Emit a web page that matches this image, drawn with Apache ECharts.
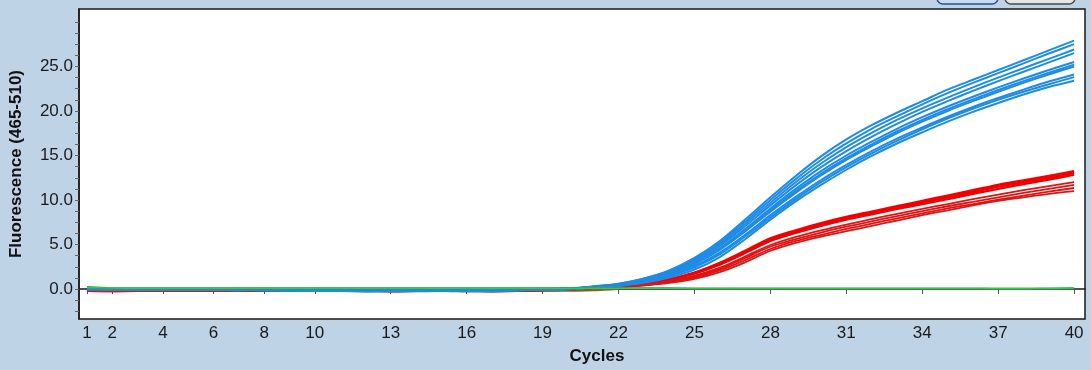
<!DOCTYPE html>
<html>
<head>
<meta charset="utf-8">
<script src="https://cdn.jsdelivr.net/npm/echarts@6/dist/echarts.min.js"></script>
<style>
html,body{margin:0;padding:0;background:#bfd3e6;}
#c{width:1091px;height:370px;}
</style>
</head>
<body>
<div id="c"></div>
<script>
const cycles = [1,2,3,4,5,6,7,8,9,10,11,12,13,14,15,16,17,18,19,20,21,22,23,24,25,26,27,28,29,30,31,32,33,34,35,36,37,38,39,40];
const xTickLabels = [1,2,4,6,8,10,13,16,19,22,25,28,31,34,37,40];
const yTickLabels = [0,5,10,15,20,25];
const yMinorTicks = [-2.5,-1.25,0,1.25,2.5,3.75,5,6.25,7.5,8.75,10,11.25,12.5,13.75,15,16.25,17.5,18.75,20,21.25,22.5,23.75,25,26.25,27.5,28.75,30];

// Blue samples
const blue1 = [0.05,0.02,0.0,-0.02,-0.05,-0.08,-0.1,-0.08,-0.12,-0.15,-0.2,-0.18,-0.15,-0.18,-0.2,-0.15,-0.12,-0.1,-0.05,0.05,0.3,0.6,1.2,2.1,3.5,5.4,7.8,10.3,12.7,14.9,16.8,18.4,19.8,21.1,22.4,23.5,24.6,25.7,26.8,27.9];
const blue2 = [0.02,0.0,-0.03,-0.05,-0.06,-0.1,-0.12,-0.1,-0.1,-0.14,-0.18,-0.2,-0.17,-0.15,-0.18,-0.16,-0.14,-0.08,-0.02,0.04,0.28,0.57,1.15,2.0,3.35,5.2,7.55,10.0,12.35,14.5,16.35,18.0,19.4,20.75,22.0,23.15,24.25,25.35,26.45,27.5];
const blue3 = [0.0,-0.02,-0.04,-0.06,-0.08,-0.05,-0.08,-0.12,-0.14,-0.12,-0.16,-0.22,-0.2,-0.16,-0.15,-0.18,-0.15,-0.1,-0.04,0.03,0.26,0.55,1.1,1.95,3.25,5.05,7.3,9.7,12.0,14.1,15.95,17.55,19.0,20.3,21.5,22.65,23.75,24.8,25.85,26.9];
const blue4 = [0.03,0.01,-0.02,-0.04,-0.07,-0.09,-0.06,-0.1,-0.11,-0.16,-0.21,-0.17,-0.19,-0.2,-0.16,-0.13,-0.16,-0.12,-0.06,0.02,0.25,0.52,1.05,1.85,3.1,4.85,7.05,9.4,11.65,13.7,15.5,17.1,18.55,19.9,21.1,22.25,23.35,24.4,25.45,26.5];
const blue5 = [-0.02,-0.04,-0.05,-0.03,-0.06,-0.1,-0.11,-0.09,-0.13,-0.17,-0.19,-0.21,-0.18,-0.17,-0.19,-0.17,-0.13,-0.09,-0.05,0.01,0.22,0.48,0.98,1.75,2.95,4.6,6.75,9.05,11.25,13.25,15.0,16.55,18.0,19.3,20.5,21.6,22.65,23.65,24.6,25.5];
const blue6 = [0.01,-0.01,-0.03,-0.05,-0.04,-0.07,-0.09,-0.11,-0.1,-0.13,-0.17,-0.19,-0.21,-0.18,-0.17,-0.14,-0.11,-0.11,-0.07,0.0,0.21,0.46,0.95,1.7,2.85,4.5,6.6,8.85,11.0,12.95,14.7,16.25,17.7,19.0,20.2,21.3,22.35,23.35,24.3,25.2];
const blue7 = [-0.01,-0.03,-0.06,-0.07,-0.05,-0.08,-0.1,-0.12,-0.15,-0.14,-0.15,-0.18,-0.16,-0.2,-0.21,-0.19,-0.14,-0.1,-0.06,-0.01,0.2,0.45,0.92,1.65,2.8,4.4,6.45,8.7,10.8,12.75,14.5,16.05,17.5,18.8,20.0,21.1,22.15,23.15,24.1,25.0];
const blue8 = [0.04,0.0,-0.01,-0.03,-0.06,-0.06,-0.09,-0.1,-0.12,-0.11,-0.18,-0.2,-0.19,-0.17,-0.2,-0.18,-0.16,-0.11,-0.05,0.02,0.18,0.42,0.85,1.55,2.6,4.1,6.1,8.3,10.35,12.25,13.95,15.5,16.9,18.15,19.35,20.45,21.45,22.4,23.3,24.1];
const blue9 = [-0.03,-0.05,-0.04,-0.06,-0.08,-0.11,-0.1,-0.13,-0.11,-0.15,-0.2,-0.17,-0.2,-0.19,-0.17,-0.2,-0.15,-0.12,-0.07,-0.02,0.17,0.4,0.8,1.45,2.45,3.9,5.9,8.05,10.1,12.0,13.7,15.25,16.65,17.95,19.15,20.25,21.25,22.15,23.0,23.8];
const blue10 = [0.0,-0.02,-0.05,-0.08,-0.07,-0.09,-0.12,-0.1,-0.14,-0.16,-0.22,-0.23,-0.18,-0.16,-0.19,-0.21,-0.17,-0.13,-0.08,-0.03,0.15,0.35,0.7,1.3,2.2,3.6,5.6,7.8,9.85,11.7,13.4,14.95,16.35,17.6,18.8,19.9,20.9,21.85,22.7,23.4];

// Red samples
const red1 = [-0.15,-0.2,-0.18,-0.16,-0.14,-0.18,-0.16,-0.12,-0.14,-0.16,-0.18,-0.17,-0.15,-0.14,-0.16,-0.18,-0.17,-0.15,-0.1,-0.02,0.2,0.35,0.65,1.1,1.85,2.95,4.3,5.7,6.6,7.4,8.1,8.7,9.3,9.9,10.5,11.1,11.7,12.2,12.7,13.25];
const red2 = [-0.18,-0.22,-0.2,-0.15,-0.13,-0.2,-0.14,-0.11,-0.13,-0.15,-0.17,-0.16,-0.17,-0.15,-0.15,-0.17,-0.16,-0.14,-0.09,-0.03,0.19,0.34,0.63,1.07,1.8,2.85,4.2,5.55,6.45,7.25,7.95,8.55,9.15,9.75,10.3,10.9,11.5,12.0,12.5,13.05];
const red3 = [-0.16,-0.21,-0.17,-0.17,-0.15,-0.19,-0.15,-0.13,-0.15,-0.14,-0.16,-0.18,-0.16,-0.16,-0.17,-0.16,-0.18,-0.16,-0.11,-0.04,0.18,0.33,0.61,1.04,1.75,2.75,4.05,5.4,6.3,7.1,7.8,8.4,9.0,9.55,10.1,10.7,11.25,11.8,12.3,12.85];
const red4 = [-0.2,-0.19,-0.16,-0.14,-0.16,-0.17,-0.13,-0.14,-0.12,-0.17,-0.19,-0.15,-0.14,-0.17,-0.14,-0.15,-0.15,-0.13,-0.12,-0.05,0.15,0.28,0.52,0.9,1.5,2.4,3.65,4.95,5.85,6.6,7.25,7.85,8.45,9.0,9.55,10.1,10.6,11.1,11.55,12.0];
const red5 = [-0.17,-0.23,-0.19,-0.18,-0.12,-0.16,-0.17,-0.15,-0.16,-0.13,-0.15,-0.19,-0.18,-0.13,-0.18,-0.14,-0.14,-0.17,-0.13,-0.06,0.14,0.26,0.48,0.84,1.4,2.25,3.5,4.75,5.6,6.35,7.0,7.6,8.2,8.75,9.3,9.8,10.3,10.8,11.25,11.7];
const red6 = [-0.19,-0.2,-0.21,-0.15,-0.17,-0.15,-0.18,-0.16,-0.11,-0.18,-0.14,-0.14,-0.19,-0.18,-0.13,-0.19,-0.13,-0.18,-0.14,-0.07,0.12,0.24,0.45,0.78,1.3,2.1,3.25,4.5,5.4,6.1,6.75,7.35,7.95,8.5,9.05,9.55,10.05,10.5,10.95,11.35];
const red7 = [-0.14,-0.24,-0.18,-0.19,-0.18,-0.21,-0.12,-0.17,-0.17,-0.12,-0.2,-0.2,-0.13,-0.19,-0.19,-0.13,-0.19,-0.14,-0.15,-0.08,0.1,0.2,0.4,0.7,1.15,1.9,3.0,4.3,5.2,5.9,6.5,7.1,7.7,8.3,8.85,9.4,9.9,10.3,10.7,11.0];

// Negative controls (green)
const green1 = [0.18,0.12,0.1,0.1,0.1,0.1,0.1,0.1,0.1,0.1,0.1,0.1,0.1,0.1,0.1,0.1,0.1,0.1,0.1,0.1,0.1,0.1,0.1,0.1,0.1,0.1,0.1,0.1,0.1,0.1,0.1,0.1,0.1,0.1,0.1,0.1,0.1,0.1,0.1,0.12];
const green2 = [0.22,0.1,0.08,0.08,0.08,0.08,0.08,0.08,0.08,0.08,0.08,0.08,0.08,0.08,0.08,0.08,0.08,0.08,0.08,0.08,0.08,0.08,0.08,0.08,0.05,0.05,0.05,0.05,0.05,0.05,0.05,0.05,0.05,0.05,0.05,0.05,0.0,0.0,0.05,0.1];

// Other baseline wells
const teal1 = [-0.05,-0.08,-0.06,-0.04,-0.03,-0.06,0.0,-0.02,-0.08,0.02,-0.05,-0.1,-0.12,-0.06,-0.05,-0.08,-0.04,-0.02,0.02,0.08,0.15,0.25];
const purple1 = [-0.1,-0.1,-0.12,-0.1,-0.12,-0.14,-0.15,-0.16,-0.18,-0.14,-0.2,-0.24,-0.26,-0.22,-0.18,-0.24,-0.26,-0.2,-0.08,0.02,0.12];
const brown1 = [-0.08,-0.12,-0.1,-0.08,-0.1,-0.12,-0.06,0.02,-0.04,-0.08,-0.12,-0.1,-0.08,-0.04,-0.06,-0.1,-0.06,-0.12,-0.14,-0.16,-0.1,0.05];

const blueSet = [blue1,blue2,blue3,blue4,blue5,blue6,blue7,blue8,blue9,blue10];
const redSet = [red1,red2,red3,red4,red5,red6,red7];

function toData(arr){ return arr.map((v,i)=>[cycles[i], v]); }
function line(arr, color, width){
  return {type:'line', data:toData(arr), showSymbol:false, symbol:'none', silent:true, smooth:0.3,
    lineStyle:{color:color, width:width}, itemStyle:{color:color}, animation:false};
}

const series = [];
series.push(line(teal1,'#1b9a9a',2.5));
series.push(line(purple1,'#8a3c94',2.5));
series.push(line(brown1,'#9a5a1e',2.5));
redSet.forEach((r,i)=>series.push(line(r, i<3 ? '#f20000' : '#dc1414', i<3?2.4:1.8)));
blueSet.forEach((b,i)=>series.push(line(b,'#1e8be6',2)));
series.push(line(green2,'#2e8f4e',2));
series.push(line(green1,'#33cc44',1.5));

const chart = echarts.init(document.getElementById('c'), null, {renderer:'canvas'});
const labelFont = '"Liberation Sans",Arial,sans-serif';
chart.setOption({
  backgroundColor:'#bfd3e6',
  animation:false,
  grid:{left:74, top:9, right:6, bottom:50, show:true, backgroundColor:'#ffffff', borderColor:'#1a1a1a', borderWidth:1.5},
  xAxis:{
    type:'value', min:0.685, max:40.43,
    name:'Cycles', nameLocation:'middle', nameGap:29,
    nameTextStyle:{fontFamily:'"Liberation Sans",Arial,sans-serif', fontWeight:'bold', fontSize:17, color:'#111', padding:[0,0,0,30]},
    axisLine:{show:true, lineStyle:{color:'#1a1a1a', width:1.5}},
    axisTick:{show:true, customValues:xTickLabels, length:5, lineStyle:{color:'#555'}},
    axisLabel:{customValues:xTickLabels, fontFamily:labelFont, fontSize:17, color:'#1a1a1a', margin:6},
    splitLine:{show:false}
  },
  yAxis:{
    type:'value', min:-3.36, max:31.45,
    name:'Fluorescence (465-510)', nameLocation:'middle', nameGap:54,
    nameTextStyle:{fontFamily:'"Liberation Sans",Arial,sans-serif', fontWeight:'bold', fontSize:17, color:'#111'},
    axisLine:{show:true, lineStyle:{color:'#1a1a1a', width:1.5}},
    axisTick:{show:true, customValues:yMinorTicks, length:4, lineStyle:{color:'#666'}},
    axisLabel:{customValues:yTickLabels, formatter:(v)=>v.toFixed(1), fontFamily:labelFont, fontSize:17, color:'#1a1a1a', margin:6},
    splitLine:{show:false}
  },
  graphic:[
    {type:'rect', shape:{x:937, y:-14, width:61, height:18, r:6}, style:{fill:'#c8dcf0', stroke:'#2b4f8c', lineWidth:1.5}, silent:true},
    {type:'rect', shape:{x:1005, y:-14, width:70, height:18, r:6}, style:{fill:'#e6e6e6', stroke:'#4a4a4a', lineWidth:1.5}, silent:true}
  ],
  series:series
});
</script>
</body>
</html>
